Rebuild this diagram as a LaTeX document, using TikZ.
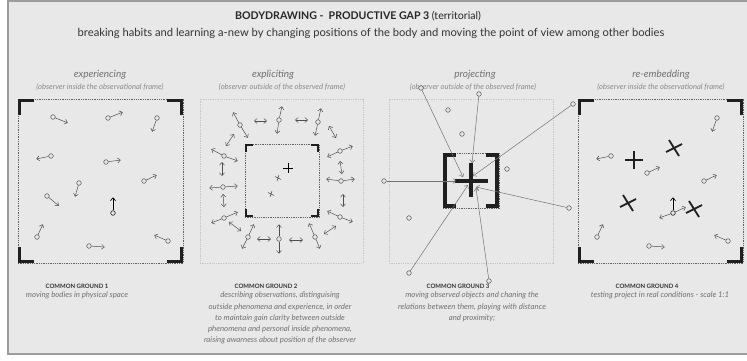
\documentclass[tikz,border=0pt]{standalone}
\usepackage{fontspec}
\setmainfont{Lato}
\usetikzlibrary{arrows.meta}
\definecolor{sheet}{HTML}{E8E8E9}
\definecolor{rim}{HTML}{9C9C9C}
\definecolor{ink}{HTML}{4E4E4E}
\definecolor{soft}{HTML}{707070}
\definecolor{faint}{HTML}{8A8A8A}
% corner marks of a frame: node, arm, thickness, inset
\newcommand{\cornermarks}[4]{%
 \draw[bracket,line width=#3pt] ([shift={(#4,#2)}]#1.north west) -- ([shift={(#4,#4)}]#1.north west) -- ([shift={(#2,#4)}]#1.north west);
 \draw[bracket,line width=#3pt] ([shift={(-#4,#2)}]#1.north east) -- ([shift={(-#4,#4)}]#1.north east) -- ([shift={(-#2,#4)}]#1.north east);
 \draw[bracket,line width=#3pt] ([shift={(#4,-#2)}]#1.south west) -- ([shift={(#4,-#4)}]#1.south west) -- ([shift={(#2,-#4)}]#1.south west);
 \draw[bracket,line width=#3pt] ([shift={(-#4,-#2)}]#1.south east) -- ([shift={(-#4,-#4)}]#1.south east) -- ([shift={(-#2,-#4)}]#1.south east);}

\begin{document}
\begin{tikzpicture}[x=1pt,y=-1pt,
 >={Straight Barb[length=2.8pt,width=5pt]},
 bodydot/.style={circle,draw=ink,fill=sheet,line width=0.5pt,inner sep=0pt,minimum size=4.6pt},
 bodymove/.style={->,draw=ink,line width=0.5pt,shorten >=0.3pt},
 bothways/.style={<->,draw=ink,line width=0.5pt},
 pull/.style={->,draw=black!55,line width=0.5pt},
 bracket/.style={draw=black!88,line join=miter},
 fieldbox/.style={draw=black!62,line width=0.45pt,dash pattern=on 1.3pt off 1pt,inner sep=0pt},
 outerbox/.style={draw=black!22,line width=0.45pt,dash pattern=on 1.3pt off 1pt,inner sep=0pt},
 ttl/.style={font=\fontsize{10.6}{12}\selectfont,text=black!85,inner sep=0pt},
 subttl/.style={font=\fontsize{11.2}{12}\selectfont,text=black!80,inner sep=0pt},
 stage/.style={font=\fontsize{10}{11}\selectfont\itshape,text=soft,inner sep=0pt},
 observer/.style={font=\fontsize{7.6}{8}\selectfont\itshape,text=faint,inner sep=0pt},
 ground/.style={font=\fontsize{6}{7}\selectfont\bfseries,text=black!80,inner sep=0pt},
 note/.style={font=\fontsize{7.8}{11.2}\selectfont\itshape,text=soft,align=center,inner sep=0pt,anchor=north}]
\useasboundingbox (0,0) rectangle (747,360);
\fill[sheet] (8,1) rectangle (747,354);
\draw[rim,line width=1.6pt] (747,1) -- (8,1) -- (8,354) -- (747,354);
%
\node[ttl] (title) at (358,16) {\bfseries BODYDRAWING -\ \ PRODUCTIVE GAP 3 \mdseries(territorial)};
\node[subttl] (subtitle) at (371,33) {breaking habits and learning a-new by changing positions of the body and moving the point of view among other bodies};
%
\node[stage] (st1) at (100,75) {experiencing};
\node[stage] (st2) at (273,75) {expliciting};
\node[stage] (st3) at (475,75) {projecting};
\node[stage] (st4) at (661,75) {re-embedding};
\node[observer] (ob1) at (100,87) {(observer inside the observational frame)};
\node[observer] (ob2) at (282,87) {(observer outside of the observed frame)};
\node[observer] (ob3) at (473,87) {(observer outside of the observed frame)};
\node[observer] (ob4) at (661,87) {(observer inside the observational frame)};
%
% experiencing
\node[fieldbox,minimum width=165pt,minimum height=164pt] (f1) at (100.5,181) {};
\cornermarks{f1}{16}{3.2}{1.6}
\node[bodydot] (a1) at (53,117) {}; \coordinate (a1e) at (68,123); \draw[bodymove] (a1) -- (a1e);
\node[bodydot] (a2) at (108,118) {}; \coordinate (a2e) at (123,112); \draw[bodymove] (a2) -- (a2e);
\node[bodydot] (a3) at (157,118) {}; \coordinate (a3e) at (152,132); \draw[bodymove] (a3) -- (a3e);
\node[bodydot] (a4) at (51,156) {}; \coordinate (a4e) at (36,159); \draw[bodymove] (a4) -- (a4e);
\node[bodydot] (a5) at (106,162) {}; \coordinate (a5e) at (121,160); \draw[bodymove] (a5) -- (a5e);
\node[bodydot] (a6) at (144,181) {}; \coordinate (a6e) at (157,175); \draw[bodymove] (a6) -- (a6e);
\node[bodydot] (a7) at (79,183) {}; \coordinate (a7e) at (75,197); \draw[bodymove] (a7) -- (a7e);
\node[bodydot] (a8) at (47,196) {}; \coordinate (a8e) at (59,206); \draw[bodymove] (a8) -- (a8e);
\node[bodydot,draw=black] (a9) at (113,213) {}; \coordinate (a9e) at (113,197); \draw[bodymove,draw=black,line width=0.7pt] (a9) -- (a9e);
\node[bodydot] (a10) at (37,237) {}; \coordinate (a10e) at (43,224); \draw[bodymove] (a10) -- (a10e);
\node[bodydot] (a11) at (89,246) {}; \coordinate (a11e) at (105,247); \draw[bodymove] (a11) -- (a11e);
\node[bodydot] (a12) at (168,241) {}; \coordinate (a12e) at (154,235); \draw[bodymove] (a12) -- (a12e);
%
% expliciting
\node[outerbox,minimum width=163pt,minimum height=164pt] (g2) at (281.5,181) {};
\node[fieldbox,minimum width=74pt,minimum height=73pt] (f2) at (282,180.5) {};
\cornermarks{f2}{8}{2.6}{1.3}
\coordinate (p2) at (288,168);
\draw[black,line width=0.6pt] ([shift={(-5,0)}]p2) -- ([shift={(5,0)}]p2) ([shift={(0,-5)}]p2) -- ([shift={(0,5)}]p2);
\coordinate (x2a) at (278,178); \coordinate (x2b) at (271,194);
\draw[ink,line width=0.5pt] ([shift={(-3,-1.5)}]x2a) -- ([shift={(3,1.5)}]x2a) ([shift={(-1,3)}]x2a) -- ([shift={(1,-3)}]x2a);
\draw[ink,line width=0.5pt] ([shift={(-3,-1.5)}]x2b) -- ([shift={(3,1.5)}]x2b) ([shift={(-1,3)}]x2b) -- ([shift={(1,-3)}]x2b);
\node[bodydot] (b1) at (240,125) {}; \coordinate (b1u) at (233,112); \coordinate (b1d) at (248,138); \draw[bodymove] (b1) -- (b1u); \draw[bodymove] (b1) -- (b1d);
\node[bodydot] (b2) at (279,120) {}; \coordinate (b2u) at (282,106); \coordinate (b2d) at (277,134); \draw[bodymove] (b2) -- (b2u); \draw[bodymove] (b2) -- (b2d);
\node[bodydot] (b3) at (318,122) {}; \coordinate (b3u) at (321,108); \coordinate (b3d) at (315,136); \draw[bodymove] (b3) -- (b3u); \draw[bodymove] (b3) -- (b3d);
\node[bodydot] (b4) at (224,156) {}; \coordinate (b4u) at (211,149); \coordinate (b4d) at (238,161); \draw[bodymove] (b4) -- (b4u); \draw[bodymove] (b4) -- (b4d);
\node[bodydot] (b5) at (340,151) {}; \coordinate (b5u) at (327,157); \coordinate (b5d) at (353,146); \draw[bodymove] (b5) -- (b5u); \draw[bodymove] (b5) -- (b5d);
\node[bodydot] (b6) at (223,187) {}; \coordinate (b6u) at (209,188); \coordinate (b6d) at (238,186); \draw[bodymove] (b6) -- (b6u); \draw[bodymove] (b6) -- (b6d);
\node[bodydot] (b7) at (341,181) {}; \coordinate (b7u) at (326,179); \coordinate (b7d) at (355,179); \draw[bodymove] (b7) -- (b7u); \draw[bodymove] (b7) -- (b7d);
\node[bodydot] (b8) at (224,218) {}; \coordinate (b8u) at (211,223); \coordinate (b8d) at (238,212); \draw[bodymove] (b8) -- (b8u); \draw[bodymove] (b8) -- (b8d);
\node[bodydot] (b9) at (340,217) {}; \coordinate (b9u) at (327,211); \coordinate (b9d) at (353,222); \draw[bodymove] (b9) -- (b9u); \draw[bodymove] (b9) -- (b9d);
\node[bodydot] (b10) at (248,237) {}; \coordinate (b10u) at (254,224); \coordinate (b10d) at (242,249); \draw[bodymove] (b10) -- (b10u); \draw[bodymove] (b10) -- (b10d);
\node[bodydot] (b11) at (279,239) {}; \coordinate (b11u) at (279,224); \coordinate (b11d) at (279,254); \draw[bodymove] (b11) -- (b11u); \draw[bodymove] (b11) -- (b11d);
\node[bodydot] (b12) at (315,237) {}; \coordinate (b12u) at (309,223); \coordinate (b12d) at (320,249); \draw[bodymove] (b12) -- (b12u); \draw[bodymove] (b12) -- (b12d);
\coordinate (d1a) at (254,121); \coordinate (d1b) at (267,121); \draw[bothways] (d1a) -- (d1b);
\coordinate (d2a) at (295,120); \coordinate (d2b) at (308,120); \draw[bothways] (d2a) -- (d2b);
\coordinate (d3a) at (329,126); \coordinate (d3b) at (336,138); \draw[bothways] (d3a) -- (d3b);
\coordinate (d4a) at (226,146); \coordinate (d4b) at (234,134); \draw[bothways] (d4a) -- (d4b);
\coordinate (d5a) at (222,162); \coordinate (d5b) at (222,176); \draw[bothways] (d5a) -- (d5b);
\coordinate (d6a) at (340,161); \coordinate (d6b) at (342,174); \draw[bothways] (d6a) -- (d6b);
\coordinate (d7a) at (223,194); \coordinate (d7b) at (224,207); \draw[bothways] (d7a) -- (d7b);
\coordinate (d8a) at (343,194); \coordinate (d8b) at (343,207); \draw[bothways] (d8a) -- (d8b);
\coordinate (d9a) at (229,222); \coordinate (d9b) at (241,231); \draw[bothways] (d9a) -- (d9b);
\coordinate (d10a) at (324,234); \coordinate (d10b) at (336,226); \draw[bothways] (d10a) -- (d10b);
\coordinate (d11a) at (257,239); \coordinate (d11b) at (271,239); \draw[bothways] (d11a) -- (d11b);
\coordinate (d12a) at (289,240); \coordinate (d12b) at (303,240); \draw[bothways] (d12a) -- (d12b);
%
% projecting
\node[outerbox,minimum width=164pt,minimum height=164pt] (g3) at (471,181) {};
\node[fieldbox,minimum width=56pt,minimum height=55pt] (f3) at (471,180.5) {};
\draw[bracket,line width=4.6pt] ([shift={(13,2.3)}]f3.north west) -- ([shift={(2.3,2.3)}]f3.north west) -- ([shift={(2.3,-2.3)}]f3.south west) -- ([shift={(13,-2.3)}]f3.south west);
\draw[bracket,line width=4.6pt] ([shift={(-13,2.3)}]f3.north east) -- ([shift={(-2.3,2.3)}]f3.north east) -- ([shift={(-2.3,-2.3)}]f3.south east) -- ([shift={(-13,-2.3)}]f3.south east);
\coordinate (hub) at (471,181);
\draw[bracket,line width=4pt] ([shift={(-16,0)}]hub) -- ([shift={(17,0)}]hub) ([shift={(0,-18)}]hub) -- ([shift={(0,16)}]hub);
\node[bodydot] (c1) at (421,88) {}; \coordinate (c1e) at (463,177); \draw[pull] (c1) -- (c1e);
\node[bodydot] (c2) at (479,94) {}; \coordinate (c2e) at (472,163); \draw[pull] (c2) -- (c2e);
\node[bodydot] (c3) at (573,104) {}; \coordinate (c3e) at (473,176); \draw[pull] (c3) -- (c3e);
\node[bodydot] (c4) at (384,181) {}; \coordinate (c4e) at (456,181); \draw[pull] (c4) -- (c4e);
\node[bodydot] (c5) at (569,208) {}; \coordinate (c5e) at (476,187); \draw[pull] (c5) -- (c5e);
\node[bodydot] (c6) at (409,273) {}; \coordinate (c6e) at (468,185); \draw[pull] (c6) -- (c6e);
\node[bodydot] (c7) at (489,281) {}; \coordinate (c7e) at (476,188); \draw[pull] (c7) -- (c7e);
\node[bodydot] (c8) at (448,110) {};
\node[bodydot] (c9) at (462,134) {};
\node[bodydot] (c10) at (507,169) {};
\node[bodydot] (c11) at (409,218) {};
%
% re-embedding
\node[fieldbox,minimum width=165pt,minimum height=164pt] (f4) at (660.5,181) {};
\cornermarks{f4}{16}{3.2}{1.6}
\coordinate (k1) at (634,160); \coordinate (k2) at (674,148); \coordinate (k3) at (628,203); \coordinate (k4) at (694,209);
\draw[bracket,line width=1.8pt] ([shift={(-9,0)}]k1) -- ([shift={(9,0)}]k1) ([shift={(0,-9)}]k1) -- ([shift={(0,9)}]k1);
\draw[bracket,line width=1.8pt] ([shift={(-5,-8)}]k2) -- ([shift={(5,8)}]k2) ([shift={(-8,4)}]k2) -- ([shift={(8,-4)}]k2);
\draw[bracket,line width=1.8pt] ([shift={(-5,-8)}]k3) -- ([shift={(5,8)}]k3) ([shift={(-8,4)}]k3) -- ([shift={(8,-4)}]k3);
\draw[bracket,line width=1.8pt] ([shift={(-5,-8)}]k4) -- ([shift={(5,8)}]k4) ([shift={(-8,4)}]k4) -- ([shift={(8,-4)}]k4);
\node[bodydot] (e1) at (717,118) {}; \coordinate (e1e) at (712,132); \draw[bodymove] (e1) -- (e1e);
\node[bodydot] (e2) at (611,156) {}; \coordinate (e2e) at (596,159); \draw[bodymove] (e2) -- (e2e);
\node[bodydot] (e3) at (647,173) {}; \coordinate (e3e) at (660,167); \draw[bodymove] (e3) -- (e3e);
\node[bodydot] (e4) at (704,181) {}; \coordinate (e4e) at (717,175); \draw[bodymove] (e4) -- (e4e);
\node[bodydot,draw=black] (e5) at (673,213) {}; \coordinate (e5e) at (673,197); \coordinate (e5l) at (659,218); \coordinate (e5r) at (686,207);
\draw[bodymove,draw=black,line width=0.7pt] (e5) -- (e5e); \draw[bodymove] (e5) -- (e5l); \draw[bodymove] (e5) -- (e5r);
\node[bodydot] (e6) at (597,237) {}; \coordinate (e6e) at (603,224); \draw[bodymove] (e6) -- (e6e);
\node[bodydot] (e7) at (649,246) {}; \coordinate (e7e) at (665,247); \draw[bodymove] (e7) -- (e7e);
\node[bodydot] (e8) at (728,241) {}; \coordinate (e8e) at (714,235); \draw[bodymove] (e8) -- (e8e);
%
% common grounds
\node[ground] (cg1) at (77,286) {COMMON GROUND 1};
\node[note] (n1) at (77,292) {moving bodies in physical space};
\node[ground] (cg2) at (266,286) {COMMON GROUND 2};
\node[note] (n2) at (280,292) {describing observations, distinguising\\outside phenomena and experience, in order\\to maintain gain clarity between outside\\phenomena and personal inside phenomena,\\raising awarness about position of the observer};
\node[ground] (cg3) at (458,286) {COMMON GROUND 3};
\node[note] (n3) at (472,292) {moving observed objects and chaning the\\relations between them, playing with distance\\and proximity;};
\node[ground] (cg4) at (647,286) {COMMON GROUND 4};
\node[note] (n4) at (660,292) {testing project in real conditions - scale 1:1};
\end{tikzpicture}
\end{document}
